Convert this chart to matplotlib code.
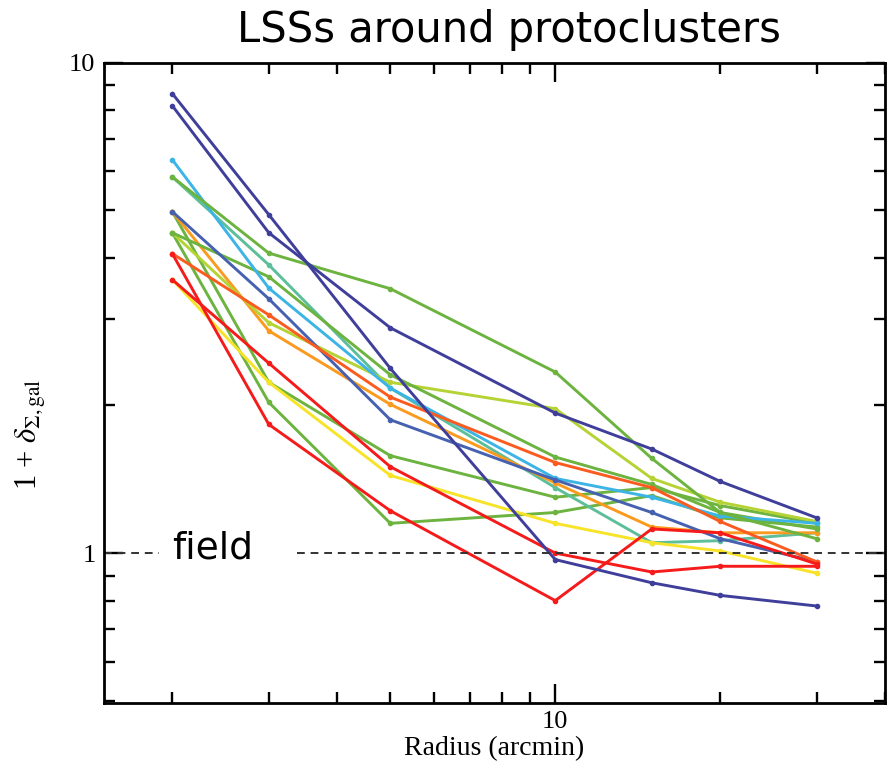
import numpy as np
import matplotlib
matplotlib.use("Agg")
import matplotlib.pyplot as plt
from matplotlib.ticker import LogLocator, NullFormatter, FuncFormatter

plt.rcParams['mathtext.fontset'] = 'stix'

# radii (arcmin) and overdensity profiles
radius = [2, 3, 5, 10, 15, 20, 30]

navy_a = [8.65, 4.90, 2.38, 0.97, 0.87, 0.82, 0.78]
navy_b = [8.17, 4.50, 2.88, 1.93, 1.63, 1.40, 1.18]
blue = [4.97, 3.30, 1.87, 1.41, 1.21, 1.07, 0.96]
cyan = [6.34, 3.47, 2.17, 1.42, 1.30, 1.19, 1.15]
teal = [5.85, 3.87, 2.17, 1.36, 1.05, 1.06, 1.10]
green_top = [5.85, 4.09, 3.46, 2.34, 1.56, 1.21, 1.07]
green_2 = [4.50, 3.66, 2.31, 1.57, 1.38, 1.21, 1.12]
green_3 = [4.97, 2.23, 1.58, 1.30, 1.36, 1.25, 1.15]
green_4 = [4.50, 2.03, 1.15, 1.21, 1.31, 1.18, 1.13]
yellow_green = [4.50, 2.95, 2.23, 1.97, 1.42, 1.27, 1.16]
yellow = [3.61, 2.23, 1.44, 1.15, 1.05, 1.01, 0.91]
orange = [4.97, 2.84, 2.01, 1.39, 1.13, 1.10, 1.10]
red_orange = [4.08, 3.06, 2.08, 1.53, 1.36, 1.16, 0.96]
red_1 = [4.08, 1.83, 1.22, 0.80, 1.12, 1.10, 0.95]
red_2 = [3.61, 2.44, 1.50, 1.00, 0.915, 0.94, 0.94]

series = [
    (green_4, '#6cb33f'),
    (green_3, '#6cb33f'),
    (teal, '#5cbf9a'),
    (yellow, '#f7e327'),
    (orange, '#fb9a1e'),
    (yellow_green, '#b5d334'),
    (green_2, '#6cb33f'),
    (cyan, '#3cb4e5'),
    (blue, '#4661b0'),
    (red_orange, '#fb5b1f'),
    (green_top, '#6cb33f'),
    (red_2, '#f61b1b'),
    (red_1, '#f61b1b'),
    (navy_b, '#3f3f9b'),
    (navy_a, '#3f3f9b'),
]

fig = plt.figure(figsize=(8.95, 7.64), dpi=100)
ax = fig.add_axes([0.116, 0.080, 0.873, 0.838])

for vals, col in series:
    ax.plot(radius, vals, color=col, lw=2.1, marker='o', ms=3, mec=col, mfc=col)

# field level
ax.hlines(1, 1.5, 1.89, colors='#333333', linestyles=(0, (4, 3)), lw=1.4)
ax.hlines(1, 3.38, 40, colors='#333333', linestyles=(0, (4, 3)), lw=1.4)
ax.text(2.0, 0.977, 'field', fontsize=27, family='DejaVu Sans', ha='left', va='baseline')

ax.set_xscale('log')
ax.set_yscale('log')
ax.set_xlim(1.5, 40)
ax.set_ylim(0.495, 10)

plain = FuncFormatter(lambda v, p: '%g' % v)
ax.xaxis.set_major_locator(LogLocator(base=10))
ax.yaxis.set_major_locator(LogLocator(base=10))
ax.xaxis.set_minor_locator(LogLocator(base=10, subs=np.arange(2, 10)))
ax.yaxis.set_minor_locator(LogLocator(base=10, subs=np.arange(2, 10)))
ax.xaxis.set_major_formatter(plain)
ax.yaxis.set_major_formatter(plain)
ax.xaxis.set_minor_formatter(NullFormatter())
ax.yaxis.set_minor_formatter(NullFormatter())

ax.tick_params(which='both', direction='in', top=True, right=True, width=1.7)
ax.tick_params(which='major', length=14, pad=6)
ax.tick_params(which='minor', length=8)
for lab in ax.get_xticklabels() + ax.get_yticklabels():
    lab.set_family('Liberation Serif')
    lab.set_fontsize(19)
for sp in ax.spines.values():
    sp.set_linewidth(2.0)

ax.set_xlabel('Radius (arcmin)', family='Liberation Serif', fontsize=20, labelpad=2)
ax.set_ylabel(r'1 + $\delta_{\Sigma,\mathrm{gal}}$', family='Liberation Serif', fontsize=22)
ax.yaxis.set_label_coords(-0.072, 0.42)

fig.text(0.569, 0.945, 'LSSs around protoclusters', fontsize=30, family='DejaVu Sans',
         ha='center', va='baseline')

fig.savefig('out.png', dpi=100)
